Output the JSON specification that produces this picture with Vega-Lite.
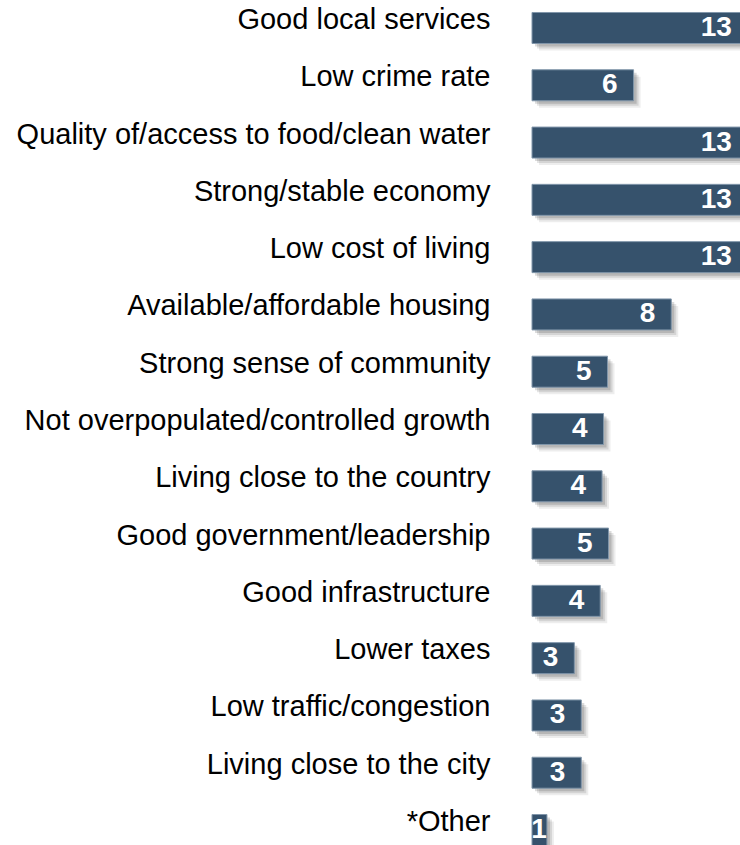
{
  "$schema": "https://vega.github.io/schema/vega-lite/v6.json",
  "width": 208,
  "height": 858,
  "autosize": "none",
  "padding": {"left": 532, "top": 0, "right": 0, "bottom": -13},
  "background": "white",
  "config": {"view": {"stroke": null}},
  "data": {
    "values": [
      {"reason": "Good local services", "value": 13},
      {"reason": "Low crime rate", "value": 6.12},
      {"reason": "Quality of/access to food/clean water", "value": 13},
      {"reason": "Strong/stable economy", "value": 13},
      {"reason": "Low cost of living", "value": 13},
      {"reason": "Available/affordable housing", "value": 8.39},
      {"reason": "Strong sense of community", "value": 4.55},
      {"reason": "Not overpopulated/controlled growth", "value": 4.31},
      {"reason": "Living close to the country", "value": 4.22},
      {"reason": "Good government/leadership", "value": 4.61},
      {"reason": "Good infrastructure", "value": 4.11},
      {"reason": "Lower taxes", "value": 2.55},
      {"reason": "Low traffic/congestion", "value": 2.97},
      {"reason": "Living close to the city", "value": 2.97},
      {"reason": "*Other", "value": 0.9}
    ]
  },
  "encoding": {
    "y": {
      "field": "reason",
      "type": "nominal",
      "sort": null,
      "scale": {"paddingInner": 0.459, "paddingOuter": 0.218},
      "axis": {
        "title": null,
        "domain": false,
        "ticks": false,
        "labelFont": "Liberation Sans",
        "labelFontSize": 29,
        "labelColor": "#000000",
        "labelPadding": 42,
        "labelLimit": 800,
        "labelOffset": -8
      }
    },
    "x": {
      "field": "value",
      "type": "quantitative",
      "scale": {"domain": [0, 12.53], "nice": false, "zero": true},
      "axis": null
    }
  },
  "layer": [
    {"mark": {"type": "bar", "color": "#000000", "opacity": 0.07, "xOffset": 7, "x2Offset": 3, "yOffset": 7}},
    {"mark": {"type": "bar", "color": "#000000", "opacity": 0.1, "xOffset": 5, "x2Offset": 3, "yOffset": 5}},
    {"mark": {"type": "bar", "color": "#000000", "opacity": 0.14, "xOffset": 3, "x2Offset": 3, "yOffset": 3}},
    {"mark": {"type": "bar", "color": "#36526c", "stroke": "#8196aa", "strokeWidth": 1}},
    {
      "transform": [{"filter": "datum.value >= 1.5"}],
      "mark": {"type": "text", "align": "right", "baseline": "middle", "dx": -16, "font": "Liberation Sans", "fontSize": 28, "fontWeight": "bold", "color": "#ffffff"},
      "encoding": {"text": {"field": "value", "type": "quantitative", "format": ".0f"}}
    },
    {
      "transform": [{"filter": "datum.value < 1.5"}],
      "mark": {"type": "text", "align": "right", "baseline": "middle", "dx": 0, "font": "Liberation Sans", "fontSize": 28, "fontWeight": "bold", "color": "#ffffff"},
      "encoding": {"text": {"field": "value", "type": "quantitative", "format": ".0f"}}
    }
  ]
}
